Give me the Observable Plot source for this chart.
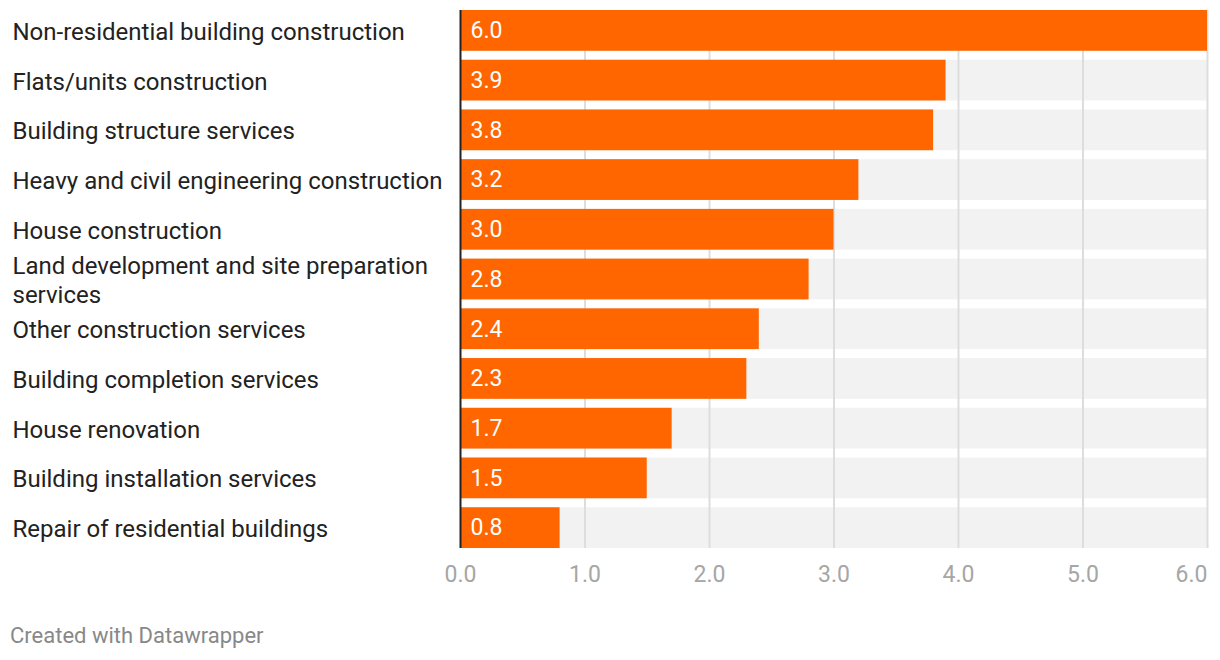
<!DOCTYPE html>
<html>
<head>
<meta charset="utf-8">
<script src="https://cdn.jsdelivr.net/npm/d3@7"></script>
<script src="https://cdn.jsdelivr.net/npm/@observablehq/plot@0.6"></script>
<style>
  body { margin: 0; background: #fff; font-family: Roboto, sans-serif; }
  #chart { width: 1220px; height: 600px; }
  .caption { font-family: Roboto, sans-serif; font-size: 22px; line-height: 26px; color: #888888; margin: 23px 0 0 10px; }
</style>
</head>
<body>
<div id="chart"></div>
<div class="caption">Created with Datawrapper</div>
<script>
const categories = [
  "Non-residential building construction",
  "Flats/units construction",
  "Building structure services",
  "Heavy and civil engineering construction",
  "House construction",
  "Land development and site preparation services",
  "Other construction services",
  "Building completion services",
  "House renovation",
  "Building installation services",
  "Repair of residential buildings"
];
const displayLabels = [
  "Non-residential building construction",
  "Flats/units construction",
  "Building structure services",
  "Heavy and civil engineering construction",
  "House construction",
  "Land development and site preparation\nservices",
  "Other construction services",
  "Building completion services",
  "House renovation",
  "Building installation services",
  "Repair of residential buildings"
];
const values = [6.0, 3.9, 3.8, 3.2, 3.0, 2.8, 2.4, 2.3, 1.7, 1.5, 0.8];
const xTicks = [0, 1, 2, 3, 4, 5, 6];
const xMax = 6;

const data = categories.map((c, i) => ({category: c, label: displayLabels[i], value: values[i]}));
const labelOf = new Map(data.map(d => [d.category, d.label]));
const fmt = d => d.toFixed(1);

const chart = Plot.plot({
  width: 1220,
  height: 600,
  marginLeft: 460,
  marginRight: 13,
  marginTop: 10,
  marginBottom: 52,
  style: {fontFamily: "Roboto, sans-serif", background: "#fff"},
  x: {domain: [0, xMax]},
  y: {domain: categories, paddingInner: 0.18, paddingOuter: 0, round: false},
  marks: [
    Plot.barX(data, {y: "category", x1: 0, x2: xMax, fill: "#f2f2f2"}),
    Plot.gridX(xTicks.filter(t => t > 0), {stroke: "#dddddd", strokeOpacity: 1, strokeWidth: 2}),
    Plot.barX(data, {y: "category", x: "value", fill: "#ff6600"}),
    Plot.ruleX([0], {stroke: "#222", strokeWidth: 2}),
    Plot.text(data, {y: "category", x: 0, text: d => fmt(d.value), textAnchor: "start", dx: 10, fill: "#fff", fontSize: 23}),
    Plot.axisX(xTicks.slice(0, -1), {tickFormat: fmt, tickSize: 0, tickPadding: 17, fontSize: 23, fill: "#a6a6a6", label: null}),
    Plot.axisX(xTicks.slice(-1), {tickFormat: fmt, tickSize: 0, tickPadding: 17, fontSize: 23, fill: "#a6a6a6", textAnchor: "end", label: null}),
    Plot.axisY({tickSize: 0, tickPadding: 0, textAnchor: "start", dx: -448, fontSize: 24, lineHeight: 1.17, fill: "#222", label: null, tickFormat: d => labelOf.get(d)})
  ]
});
document.getElementById("chart").appendChild(chart);
</script>
</body>
</html>
